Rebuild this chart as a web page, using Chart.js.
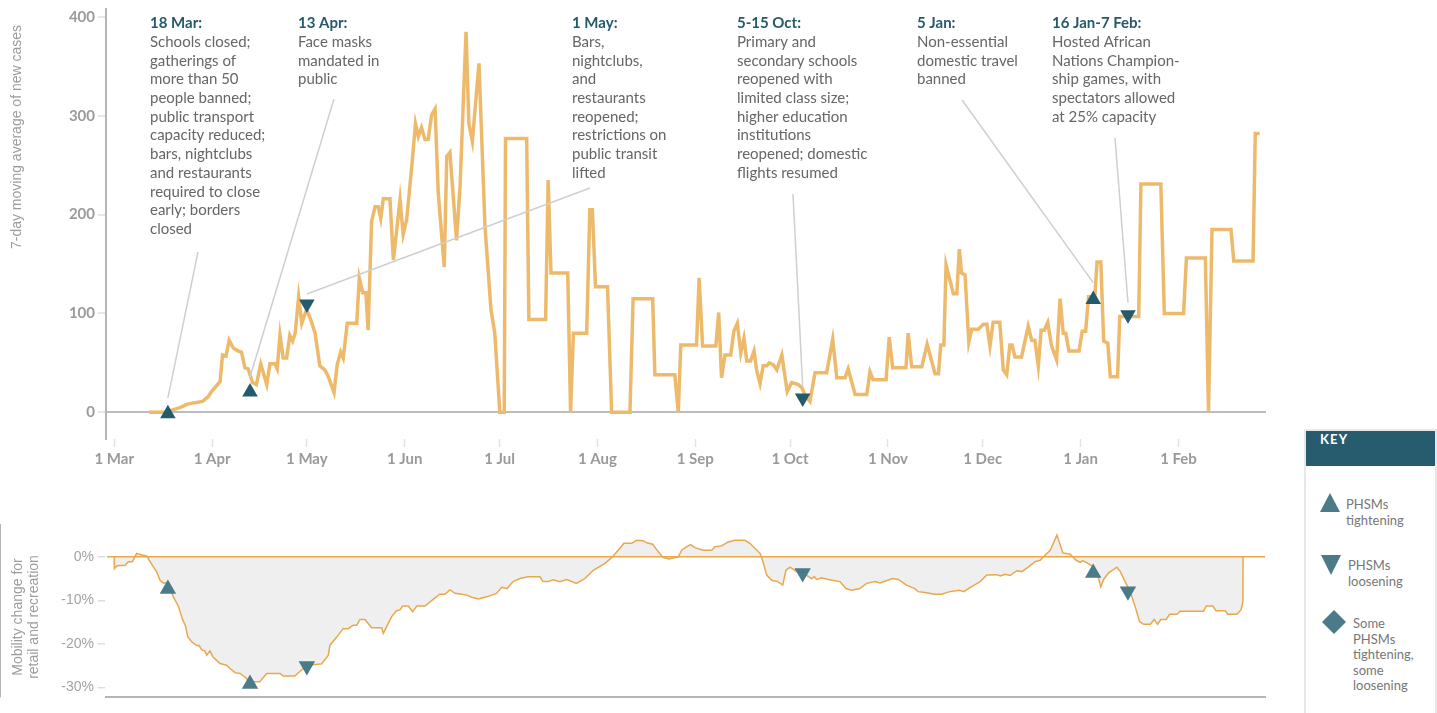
<!DOCTYPE html>
<html>
<head>
<meta charset="utf-8">
<script src="https://cdn.jsdelivr.net/npm/chart.js@4.4.1/dist/chart.umd.min.js"></script>
<style>
  html, body { margin: 0; padding: 0; background: #fff; }
  body { width: 1437px; height: 713px; overflow: hidden; position: relative; font-family: Lato, "Noto Sans", sans-serif; }
  #topChart { position: absolute; left: 0; top: 0; }
  #botChart { position: absolute; left: 0; top: 500px; }
  #key { position: absolute; left: 1304px; top: 429px; width: 129px; height: 300px; border: 2px solid #e8e8e8; border-bottom: none; background: #fff; }
  #keyHead { height: 35px; line-height: 35px; background: #265c6e; color: #fff; font: 700 13px Lato, sans-serif; letter-spacing: 1.2px; padding-left: 14px; }
  #keySvg { position: absolute; left: -2px; top: -2px; }
  .keyText { position: absolute; font: 400 13px Lato, sans-serif; color: #777; line-height: 16px; white-space: nowrap; }
</style>
</head>
<body>
<canvas id="topChart" width="1290" height="480"></canvas>
<canvas id="botChart" width="1290" height="213"></canvas>
<div id="key">
  <div id="keyHead">KEY</div>
  <svg id="keySvg" width="133" height="284">
    <polygon points="26,64 16,83 36,83" fill="#4b7a89"/>
    <polygon points="17,126 37,126 27,146" fill="#4b7a89"/>
    <polygon points="30,181 42,193 30,205 18,193" fill="#4b7a89"/>
  </svg>
  <div class="keyText" style="left:40px;top:65px;">PHSMs<br>tightening</div>
  <div class="keyText" style="left:42px;top:126px;">PHSMs<br>loosening</div>
  <div class="keyText" style="left:47px;top:185px;line-height:15.5px;">Some<br>PHSMs<br>tightening,<br>some<br>loosening</div>
</div>
<script>
// ---------------- DATA ----------------
// x values are days since 1 Mar 2020
const monthTickDays = [0, 31, 61, 92, 122, 153, 184, 214, 245, 275, 306, 337];
const monthTickLabels = ['1 Mar', '1 Apr', '1 May', '1 Jun', '1 Jul', '1 Aug', '1 Sep', '1 Oct', '1 Nov', '1 Dec', '1 Jan', '1 Feb'];
const caseTicks = [0, 100, 200, 300, 400];
const mobilityTicks = [0, -10, -20, -30];

const caseDays = [11,16,19,21,23,25,28,29.8,30.8,33.5,34.3,35.4,36.4,37.7,39.3,40.3,41.4,42.4,43.8,45,46.4,48.3,49.3,50.9,51.6,52.5,53.5,54.6,55.6,56.5,57.3,58.4,59.4,60.9,62.2,63.6,65.1,66.7,67.8,69.6,70.6,71.7,72.5,73.8,76.8,77.6,78.7,79.7,80.4,81.5,82.6,83.6,84.4,85.2,87.3,88.4,90.5,91.5,92.6,94.2,95.4,96.3,97.3,98.4,99.4,100.5,101.6,102.6,104.5,105.3,106.3,108.4,109.5,111.4,112.3,113.4,115.5,117.4,119.3,120.5,122.1,123.5,123.9,130.6,131.3,136.6,137.4,138.3,143.6,144.5,145.4,149.6,150.6,151.4,152.4,156.2,157.5,163.3,164.3,170.5,171.2,177.5,178.6,179.4,184.4,185.2,186.3,190.5,191.4,192.3,193.4,195.2,196.2,197.3,198.4,199.4,200.3,201.5,202.6,203.4,204.5,205.5,206.6,207.4,208.7,209.8,211.4,212.4,213.1,214.5,216.6,217.7,219,220.3,221.9,225.6,227.5,228.8,231.4,232.4,234.6,238.3,239.3,240.3,244.4,245.4,246.5,250.7,251.4,252.5,255.7,257.4,259.9,261,261.7,262.7,263.4,265.7,266.8,267.6,268.3,269.4,270.6,271.5,273.6,275.2,276.3,277.3,278.3,280.4,281.5,282.6,283.6,284.3,285.2,287.3,289.4,290.5,291.5,292.6,293.5,294.5,295.6,296.8,298.4,299.5,300.5,301.3,302.3,305.5,306.5,307.6,308.5,310.5,311.2,312.4,313.3,314.6,315.4,317.7,318.4,324.4,325.1,331.4,332.5,338.6,339.5,345.5,346.5,347.6,353.6,354.5,360.6,361.3,362.7];
const caseValues = [0,0,3,5,8,9.5,11,16,21,31,58,57,73,65,62,61,45,44,30,28,49,28,49,49,44,78,55,55,78,72,80,117,90,104,94,80,47,43,36,20,48,61,55,90,90,136,121,121,83,193,208,208,196,216,216,154,215,180,195,248,292,279,288,276,276,301,307,222,147,259,263,174,228,385,292,274,353,188,104,80,0,0,277,277,94,94,235,141,141,0,80,80,205,205,127,127,0,0,115,115,38,38,0,68,68,136,67,67,101,35,58,58,82,90,60,75,52,52,62,43,29,47,47,50,48,43,58,36,21,30,28,25,16,11,40,40,74,35,35,44,18,18,41,33,33,76,45,45,80,46,46,69,39,39,68,68,149,120,120,165,141,139,71,84,84,89,89,67,91,91,43,38,68,68,56,56,87,73,73,47,83,83,91,67,53,115,80,80,62,62,82,82,117,117,152,152,72,70,36,36,97,97,231,231,100,100,156,156,0,185,185,153,153,282,282];

const mobilityDays = [0,0.05,0.8,1.6,3.4,4.4,5.8,7.1,8.7,10.3,11.1,12.4,13.4,14.5,15.5,17.1,18.7,20.3,21.7,22.5,23.3,24.5,26.1,26.9,27.7,28.7,29.3,30.3,31.3,33.5,35.6,36.6,38.2,39.8,41.4,43,46.1,48.3,52.5,53.5,57.2,59.3,61.4,65.7,67.8,68.3,70.4,72.5,74.1,75.7,76.8,77.8,79.4,81.5,84.7,85.2,87.8,89.4,90.5,91.3,93.1,94.5,95.8,98.4,101,103.1,104.7,106.3,107.9,110,111.6,113.2,115.3,117.9,121.1,122.7,124.4,126.3,128.5,131.1,134.8,135.8,137.4,139,141.1,143.3,146.4,149,151.7,155.4,157.5,159.6,161.4,163.8,165.4,167.5,168.6,170.5,171.7,173.7,175.7,178.6,179.7,181.2,182.5,183.9,186.5,189.2,190.2,192.3,194.4,196.5,199.7,201.3,204.5,205.3,206.6,208.2,210.1,211.7,212.7,214,216.1,218.7,220.8,221.7,222.4,224,226.1,229.8,231.7,233.5,236.1,238.3,240.9,242.5,244,246.5,248.3,250.9,253.5,254.6,256.7,259.9,262,264.6,267.6,269,271.1,274.2,276.3,279.5,280.6,282.1,283.7,285.8,287.4,289.5,291.6,293.2,294.8,296.4,298.5,300.4,302.7,304.6,305.9,306.7,308,310.1,311.4,312.4,313.3,314.9,317.5,318.6,320.1,321.7,323.3,324.7,326,328.1,329.3,330.4,331.4,333.1,334.2,336.5,337.5,344.9,345.8,347.9,348.9,351.8,352.6,355.5,356.8,357.4,357.45];
const mobilityValues = [0,-2.7,-2.1,-2,-2,-1.2,-1.1,0.8,0.4,0.2,-0.8,-2.3,-3.4,-5.4,-6,-6,-9.2,-11.3,-14.5,-15.7,-18.4,-19.5,-20.4,-20.4,-21.4,-21.6,-22.6,-21.6,-23,-24.5,-24.9,-25.6,-26.6,-26.8,-27.6,-28.7,-28.7,-26.8,-26.8,-27.4,-27.4,-26,-24.9,-24.6,-22.6,-20.3,-18.5,-16.5,-16.5,-15.7,-15.7,-14.4,-14.4,-16.3,-16.3,-17.6,-13.8,-12.4,-12.2,-11.3,-11.3,-12.6,-11.3,-11.3,-9.8,-8.6,-8.6,-7.6,-8.4,-8.6,-8.8,-9.3,-9.7,-9.2,-8.4,-7,-7.3,-5.7,-5,-4.6,-4.6,-5.7,-5.7,-5.3,-5.7,-5.2,-6.1,-5,-3.1,-1.5,-0.2,1.5,3.1,3.1,3.8,3.7,3.2,2.9,1.7,-0.1,-0.5,0,1.5,2.3,2.8,2.1,1.5,1.5,2.3,2.5,3.4,3.8,3.8,3.1,0.8,-0.8,-4.2,-5.4,-5.7,-6.5,-3.1,-2.4,-3.4,-4,-5,-4.6,-5.2,-4.8,-5.2,-5.7,-7.3,-7.7,-7.3,-6.1,-5.7,-6,-5.6,-5,-5.2,-6.5,-7.3,-8,-8.2,-8.6,-8.6,-8,-7.7,-8,-7,-5.7,-4.2,-4.1,-4.4,-4,-4.3,-3.2,-3.4,-2.3,-1.1,-0.8,0.4,1.5,5,0.9,0.6,-0.8,-1.3,-0.9,-1.4,-2.3,-4.2,-6.9,-5.2,-3.7,-2.4,-3.4,-5.7,-8,-11.5,-14.9,-15.5,-15.5,-14.4,-15.5,-14.4,-14.4,-13.2,-13.2,-12.5,-12.5,-11.3,-11.3,-12.4,-12.4,-13.2,-13.2,-12.2,-10.3,0];

// Public health and social measures (PHSM) events
const eventDays = [17, 43, 61, 218, 310, 321];
const eventKinds = ['up', 'up', 'down', 'down', 'up', 'down'];
const eventCaseValues = [-1.5, 20.6, 109.5, 14.5, 114, 98.7];
const eventMobilityValues = [-7.4, -29.2, -25.1, -3.7, -3.7, -7.9];
const eventTitles = ['18 Mar:', '13 Apr:', '1 May:', '5-15 Oct:', '5 Jan:', '16 Jan-7 Feb:'];
const eventTexts = [
  ['Schools closed;', 'gatherings of', 'more than 50', 'people banned;', 'public transport', 'capacity reduced;', 'bars, nightclubs', 'and restaurants', 'required to close', 'early; borders', 'closed'],
  ['Face masks', 'mandated in', 'public'],
  ['Bars,', 'nightclubs,', 'and', 'restaurants', 'reopened;', 'restrictions on', 'public transit', 'lifted'],
  ['Primary and', 'secondary schools', 'reopened with', 'limited class size;', 'higher education', 'institutions', 'reopened; domestic', 'flights resumed'],
  ['Non-essential', 'domestic travel', 'banned'],
  ['Hosted African', 'Nations Champion-', 'ship games, with', 'spectators allowed', 'at 25% capacity']
];

// ---------------- LAYOUT / STYLE ----------------
const caseLineColor = '#EDBA6B';
const mobilityLineColor = '#E8A84C';
const markerDark = '#245B6C';
const markerLight = '#4B7A89';
const axisGray = '#b5b5b5';
const tickLabelGray = '#9a9a9a';

// annotation text block left x and leader line start (layout positions)
const noteLayout = [
  { x: 150, lx: 198, ly: 252, gap: 16 },
  { x: 298, lx: 334, ly: 99, gap: 15 },
  { x: 572, lx: 590, ly: 188, gap: 10 },
  { x: 737, lx: 793, ly: 194, gap: 11 },
  { x: 917, lx: 962, ly: 100, gap: 17 },
  { x: 1052, lx: 1115, ly: 138, gap: 12 }
];

function pts(xs, ys) { return xs.map((x, i) => ({ x: x, y: ys[i] })); }
const rotations = eventKinds.map(k => k === 'up' ? 0 : 180);

function sideTitlePlugin(id, lines, xs, yc) {
  return {
    id: id,
    afterDraw(chart) {
      const ctx = chart.ctx;
      ctx.save();
      ctx.fillStyle = '#9c9c9c';
      ctx.font = '14px "Liberation Sans", Arial, sans-serif';
      ctx.textAlign = 'center';
      ctx.textBaseline = 'middle';
      lines.forEach((ln, i) => {
        ctx.save();
        ctx.translate(xs[i], yc);
        ctx.rotate(-Math.PI / 2);
        ctx.fillText(ln, 0, 0);
        ctx.restore();
      });
      ctx.restore();
    }
  };
}

const notesPlugin = {
  id: 'notes',
  afterDatasetsDraw(chart) {
    const ctx = chart.ctx;
    const xs = chart.scales.x, ys = chart.scales.y;
    ctx.save();
    // leader lines
    ctx.strokeStyle = '#cfcfcf';
    ctx.lineWidth = 1.5;
    noteLayout.forEach((n, i) => {
      const px = xs.getPixelForValue(eventDays[i]);
      const py = ys.getPixelForValue(eventCaseValues[i]) - n.gap;
      ctx.beginPath();
      ctx.moveTo(n.lx, n.ly);
      ctx.lineTo(px, py);
      ctx.stroke();
    });
    // texts
    ctx.textBaseline = 'middle';
    ctx.textAlign = 'left';
    noteLayout.forEach((n, i) => {
      ctx.fillStyle = '#245a6b';
      ctx.font = '700 15px Lato, sans-serif';
      ctx.fillText(eventTitles[i], n.x, 23);
      ctx.fillStyle = '#666';
      ctx.font = '400 15px Lato, sans-serif';
      eventTexts[i].forEach((t, j) => ctx.fillText(t, n.x, 42 + j * 18.72));
    });
    ctx.restore();
  }
};

function draw() {
  new Chart(document.getElementById('topChart'), {
    type: 'line',
    data: {
      datasets: [
        {
          type: 'scatter',
          label: 'PHSM events',
          data: pts(eventDays, eventCaseValues),
          pointStyle: 'triangle',
          pointRotation: rotations,
          pointRadius: 9,
          backgroundColor: markerDark,
          borderWidth: 0,
          order: 0
        },
        {
          label: '7-day moving average of new cases',
          data: pts(caseDays, caseValues),
          borderColor: caseLineColor,
          borderWidth: 3.5,
          pointRadius: 0,
          fill: false,
          tension: 0,
          order: 1
        }
      ]
    },
    options: {
      responsive: false,
      animation: false,
      events: [],
      layout: { padding: { left: 0, right: 24, top: 8, bottom: 0 } },
      plugins: { legend: { display: false }, tooltip: { enabled: false } },
      scales: {
        x: {
          type: 'linear',
          min: -2.6,
          max: 364.7,
          afterBuildTicks: s => { s.ticks = monthTickDays.map(v => ({ value: v })); },
          ticks: {
            autoSkip: false, maxRotation: 0, padding: 3,
            color: tickLabelGray,
            font: { family: 'Lato', size: 15, weight: 'bold' },
            callback: (v, i) => monthTickLabels[i]
          },
          grid: { drawOnChartArea: false, drawTicks: true, tickLength: 8, tickColor: '#e3e3e3', tickWidth: 1.5 },
          border: { display: false },
          afterFit: s => { s.height = 41; s.paddingLeft = 0; s.paddingRight = 0; }
        },
        y: {
          min: -27,
          max: 408,
          afterBuildTicks: s => { s.ticks = caseTicks.map(v => ({ value: v })); },
          ticks: {
            padding: 3,
            color: tickLabelGray,
            font: { family: 'Lato', size: 15, weight: 'bold' }
          },
          grid: {
            color: c => (c.tick && c.tick.value === 0) ? '#bdbdbd' : 'rgba(0,0,0,0)',
            lineWidth: 2,
            tickColor: '#dedede',
            tickWidth: 1.5,
            tickLength: 8
          },
          border: { display: true, color: axisGray, width: 2 },
          afterFit: s => { s.width = 106; s.paddingTop = 0; s.paddingBottom = 0; }
        }
      }
    },
    plugins: [notesPlugin, sideTitlePlugin('topTitle', ['7-day moving average of new cases'], [17], 137)]
  });

  new Chart(document.getElementById('botChart'), {
    type: 'line',
    data: {
      datasets: [
        {
          type: 'scatter',
          label: 'PHSM events',
          data: pts(eventDays, eventMobilityValues),
          pointStyle: 'triangle',
          pointRotation: rotations,
          pointRadius: 9.5,
          backgroundColor: markerLight,
          borderWidth: 0,
          order: 0
        },
        {
          label: 'Mobility change for retail and recreation',
          data: pts(mobilityDays, mobilityValues),
          borderColor: mobilityLineColor,
          borderWidth: 1.5,
          backgroundColor: '#efefef',
          fill: 'origin',
          pointRadius: 0,
          tension: 0,
          order: 1
        }
      ]
    },
    options: {
      responsive: false,
      animation: false,
      events: [],
      layout: { padding: { left: 0, right: 25, top: 25, bottom: 0 } },
      plugins: { legend: { display: false }, tooltip: { enabled: false } },
      scales: {
        x: {
          type: 'linear',
          min: -2.6,
          max: 364.4,
          ticks: { display: false },
          grid: { display: false },
          border: { display: true, color: axisGray, width: 2 },
          afterFit: s => { s.height = 16; s.paddingLeft = 0; s.paddingRight = 0; }
        },
        y: {
          min: -32.2,
          max: 7.3,
          afterBuildTicks: s => { s.ticks = mobilityTicks.map(v => ({ value: v })); },
          ticks: {
            padding: 4,
            color: '#a3a3a3',
            font: { family: '"Liberation Sans", Arial, sans-serif', size: 14 },
            callback: v => v + '%'
          },
          grid: {
            z: 1,
            color: c => (c.tick && c.tick.value === 0) ? mobilityLineColor : 'rgba(0,0,0,0)',
            lineWidth: 1.5,
            tickColor: '#dedede',
            tickWidth: 1.5,
            tickLength: 8
          },
          border: { display: true, color: axisGray, width: 2 },
          afterFit: s => { s.width = 106; s.paddingTop = 0; s.paddingBottom = 0; }
        }
      }
    },
    plugins: [sideTitlePlugin('botTitle', ['Mobility change for', 'retail and recreation'], [18, 34], 117)]
  });
}

if (document.fonts && document.fonts.load) {
  Promise.all([
    document.fonts.load('400 15px Lato'),
    document.fonts.load('700 15px Lato'),
    document.fonts.load('14px "Liberation Sans"')
  ]).then(draw, draw);
} else {
  draw();
}
</script>
</body>
</html>
